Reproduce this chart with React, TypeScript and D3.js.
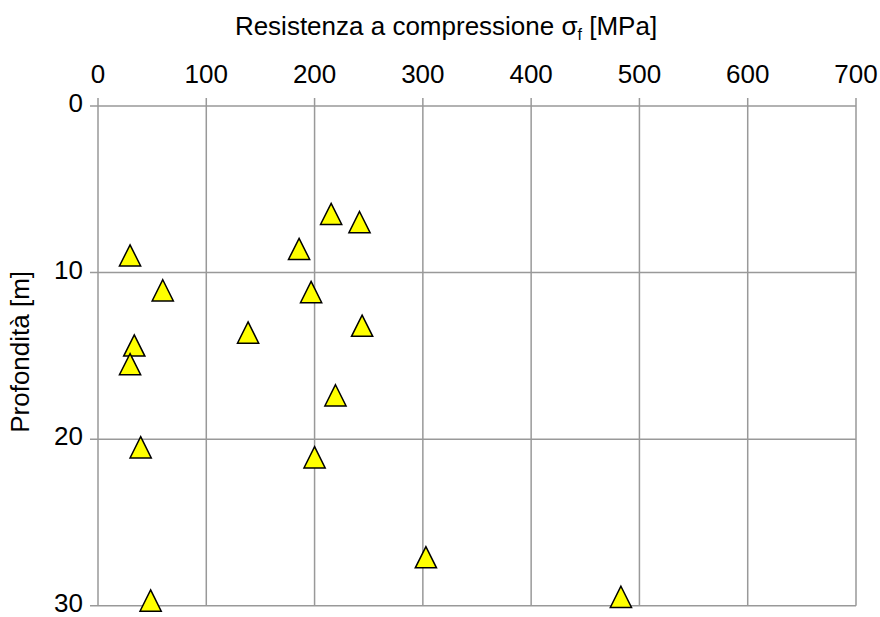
import React from "react";
import * as d3 from "d3";

// Compressive strength σf [MPa] and depth [m] of the tested samples
const strength = [215.3, 241.5, 185.7, 29.6, 59.8, 196.8, 243.9, 138.6, 33.5, 29.6, 219.3, 39.4, 200.0, 302.8, 48.6, 482.9];
const depth = [6.48, 6.97, 8.58, 8.97, 11.07, 11.17, 13.19, 13.6, 14.38, 15.5, 17.37, 20.49, 21.09, 27.09, 29.69, 29.47];

const xTicks = [0, 100, 200, 300, 400, 500, 600, 700];
const yTicks = [0, 10, 20, 30];

const W = 880;
const H = 617;
const plot = { left: 98, right: 856, top: 106, bottom: 605.7 };
const FONT = "'Liberation Sans', Arial, sans-serif";
const FS = 26;

// Triangle marker centred on its bounding box
const triangle = (() => {
  const h = 10.6;
  const p = d3.path();
  p.moveTo(0, -h);
  p.lineTo(h, h);
  p.lineTo(-h, h);
  p.closePath();
  return p.toString();
})();

export default function App() {
  const x = d3.scaleLinear().domain([0, 700]).range([plot.left, plot.right]);
  const y = d3.scaleLinear().domain([0, 30]).range([plot.top, plot.bottom]);
  const grid = "#999999";
  const tick = 8;

  return (
    <svg
      width={W}
      height={H}
      style={{ position: "absolute", left: 0, top: 0, background: "#fff" }}
      fontFamily={FONT}
    >
      {/* vertical grid lines with outward ticks at the top */}
      {xTicks.map((t) => (
        <line key={"gx" + t} x1={x(t)} x2={x(t)} y1={plot.top - tick} y2={plot.bottom} stroke={grid} strokeWidth={1.5} />
      ))}
      {/* horizontal grid lines with outward ticks on the left */}
      {yTicks.map((t) => (
        <line key={"gy" + t} x1={plot.left - tick} x2={plot.right} y1={y(t)} y2={y(t)} stroke={grid} strokeWidth={1.5} />
      ))}

      {xTicks.map((t) => (
        <text key={"tx" + t} x={x(t)} y={83} textAnchor="middle" fontSize={FS} fill="#000">
          {t}
        </text>
      ))}
      {yTicks.map((t) => (
        <text key={"ty" + t} x={83} y={y(t) + 6} textAnchor="end" fontSize={FS} fill="#000">
          {t}
        </text>
      ))}

      <text x={446} y={35} textAnchor="middle" fontSize={FS} fill="#000">
        Resistenza a compressione σ<tspan fontSize={16} dy={5}>f</tspan>
        <tspan dy={-5}> [MPa]</tspan>
      </text>
      <text
        transform={`translate(28.5, ${(plot.top + plot.bottom) / 2 - 4}) rotate(-90)`}
        textAnchor="middle"
        fontSize={FS}
        fill="#000"
      >
        Profondità [m]
      </text>

      {strength.map((v, i) => (
        <path
          key={"p" + i}
          d={triangle}
          transform={`translate(${x(v)}, ${y(depth[i])})`}
          fill="#ffff00"
          stroke="#000"
          strokeWidth={1.5}
          strokeLinejoin="miter"
        />
      ))}
    </svg>
  );
}
